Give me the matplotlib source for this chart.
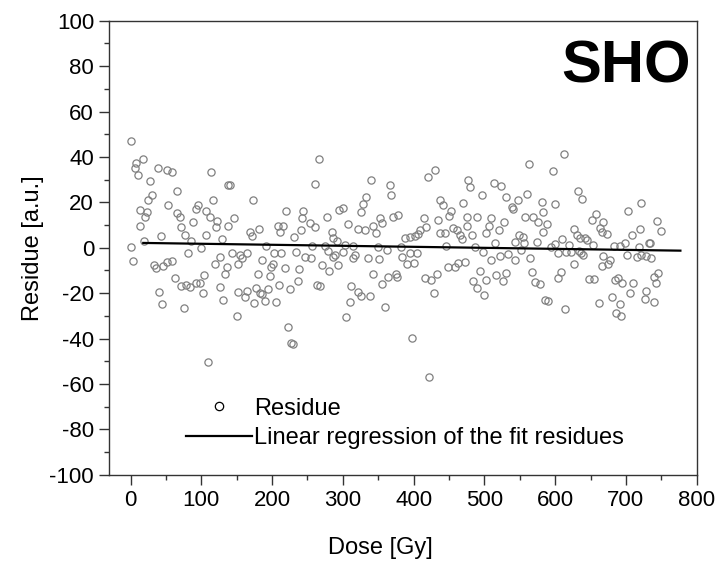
import numpy as np
import matplotlib
matplotlib.use("Agg")
import matplotlib.pyplot as plt
from matplotlib.ticker import MultipleLocator

plt.rcParams['font.family'] = ['Liberation Sans', 'DejaVu Sans']
plt.rcParams['axes.unicode_minus'] = False

# ---------- data ----------
dose = [
    1, 17, 8, 6, 11, 39, 51, 58, 114, 27, 138, 66, 30, 25, 117, 53, 96, 92, 14, 23,
    20, 65, 70, 107, 112, 122, 88, 13, 121, 138, 71, 43, 77, 106, 129, 19, 86, 0, 99, 81,
    4, 126, 119, 33, 36, 46, 51, 58, 136, 133, 104, 63, 72, 79, 84, 93, 98, 126, 102, 40,
    131, 45, 76, 110,
    266, 140, 261, 173, 220, 244, 242, 277, 146, 253, 260, 209, 216, 211, 241, 169, 182, 171, 231, 284,
    286, 192, 257, 275, 144, 164, 154, 158, 203, 213, 234, 246, 255, 279, 286, 152, 186, 202, 199, 218,
    238, 270, 280, 180, 197, 236, 210, 225, 264, 268, 152, 165, 177, 183, 186, 194, 162, 175, 190, 205,
    150, 223, 227, 230,
    430, 420, 340, 366, 368, 333, 329, 326, 295, 300, 308, 322, 331, 352, 356, 343, 347, 371, 378, 414,
    418, 409, 435, 437, 292, 388, 395, 402, 406, 303, 314, 350, 362, 382, 437, 289, 300, 317, 315, 293,
    336, 351, 384, 395, 405, 391, 400, 342, 364, 375, 377, 356, 416, 425, 433, 429, 311, 322, 325, 338,
    310, 359, 304, 398, 422,
    563, 477, 480, 513, 524, 496, 530, 560, 547, 539, 541, 442, 470, 581, 453, 450, 456, 461, 465, 468,
    444, 475, 476, 490, 483, 510, 506, 503, 520, 528, 558, 569, 576, 583, 583, 515, 543, 549, 555, 556,
    446, 487, 498, 522, 534, 552, 509, 543, 564, 574, 449, 459, 463, 472, 494, 484, 502, 489, 500, 517,
    526, 531, 567, 571, 579, 586,
    612, 597, 632, 638, 600, 589, 703, 722, 658, 652, 668, 663, 673, 666, 627, 631, 635, 642, 645, 653,
    610, 600, 594, 604, 620, 616, 623, 637, 640, 634, 720, 708, 699, 683, 692, 718, 732, 668, 677, 675,
    666, 702, 715, 729, 626, 608, 604, 648, 655, 685, 689, 695, 710, 706, 729, 727, 590, 614, 662, 680,
    691, 686, 693,
    744, 749, 734, 722, 736, 746, 739, 743, 740,
]
residue = [
    47, 39, 37.5, 35, 32, 35.3, 34.2, 33.2, 33.5, 29.5, 27.6, 25.1, 23.2, 21, 21, 18.8, 18.8, 16.9, 16.6, 15.9,
    13.4, 15.2, 13.4, 16.3, 13.4, 11.9, 11.5, 9.7, 9, 9.6, 9, 5.3, 5.6, 5.6, 3.9, 3.1, 3, 0.2, -0.3, -2.5,
    -5.8, -3.9, -7.3, -7.6, -8.8, -8, -6.1, -5.8, -8.3, -11.6, -12, -13.5, -16.8, -16.4, -17.1, -15.7, -15.7, -17.1, -20.1, -19.3,
    -23, -24.9, -26.7, -50.2,
    39.1, 27.6, 27.9, 21.0, 16.2, 16.2, 13.2, 13.7, 13.2, 10.8, 9.0, 9.6, 9.6, 7.1, 7.8, 6.7, 8.3, 5.2, 4.6, 7.1,
    4.2, 0.8, 0.8, 0.8, -2.2, -2.5, -3.2, -4.7, -2.5, -2.5, -1.7, -3.9, -4.7, -1.4, -3.9, -7.3, -5.4, -7.3, -8.6, -9.1,
    -9.4, -7.6, -10.1, -11.6, -12.4, -14.5, -16.4, -18.3, -16.4, -16.7, -19.3, -18.9, -17.9, -19.8, -20.4, -18.3, -21.8, -24.5, -23.5, -23.7,
    -30.1, -34.8, -41.8, -42.5,
    34.2, 31.3, 29.8, 27.6, 23.2, 22.5, 19.3, 15.9, 16.6, 17.4, 10.5, 8.1, 7.8, 13.2, 11.0, 9.6, 6.3, 13.7, 14.4, 13.2,
    9.3, 7.8, 12.2, 21.0, 3.1, 4.2, 4.9, 5.2, 5.9, 1.2, 0.8, 0.2, -1.0, 0.5, 6.3, -3.2, -1.7, -3.2, -4.7, -7.6,
    -4.7, -5.1, -3.9, -2.5, -2.2, -7.2, -6.9, -11.6, -13.0, -11.6, -12.7, -16.0, -13.5, -14.2, -11.6, -20.1, -16.8, -19.3, -21.2, -21.2,
    -23.7, -26.2, -30.6, -39.9, -56.8,
    36.7, 29.8, 26.9, 28.7, 27.3, 23.2, 22.5, 23.7, 21.0, 17.8, 16.9, 18.8, 19.6, 20.3, 16.3, 14.0, 8.6, 7.8, 5.6, 3.7,
    6.3, 13.7, 9.6, 13.4, 5.6, 12.9, 9.6, 6.3, 7.8, 11.5, 13.7, 13.7, 11.5, 15.9, 7.1, 2.2, 2.7, 5.6, 4.9, 1.9,
    0.8, 0.5, -1.7, -3.6, -2.7, -1.0, -5.4, -5.4, -4.4, 2.3, -8.3, -8.6, -6.9, -6.1, -10.1, -14.5, -14.2, -17.6, -20.8, -12.0,
    -14.5, -11.0, -10.5, -14.9, -16.0, -23.0,
    41.1, 33.9, 25.0, 21.3, 19.3, 10.5, 16.3, 19.9, 14.7, 12.2, 11.5, 8.8, 6.0, 7.1, 8.1, 5.6, 4.1, 4.1, 3.4, 1.2,
    3.7, 1.7, 0.2, -2.5, 1.2, -1.7, -1.7, -2.2, -3.2, -1.4, 8.1, 5.6, 1.9, 0.8, 0.8, 0.5, 2.2, -3.6, -5.4, -7.2,
    -8.0, -3.2, -3.9, -3.6, -7.3, -10.5, -13.5, -13.9, -13.9, -14.2, -13.5, -15.7, -15.4, -19.8, -18.9, -22.7, -23.5, -27.1, -24.5, -21.8,
    -24.8, -28.6, -30.3,
    11.8, 7.4, 1.9, -3.2, -4.7, -11.3, -12.7, -15.4, -23.7,
]

# end points of the linear regression line
reg_dose = [18, 777]
reg_res = [2.1, -1.3]

xticks = [0, 100, 200, 300, 400, 500, 600, 700, 800]
yticks = [-100, -80, -60, -40, -20, 0, 20, 40, 60, 80, 100]

# ---------- plot ----------
fig = plt.figure(figsize=(7.2, 5.72), dpi=100)
ax = fig.add_axes([0.1518, 0.1701, 0.8158, 0.7937])

ax.plot(dose, residue, linestyle='none', marker='o', ms=5.2, mfc='none',
        mec='#808080', mew=0.9, label='Residue')
ax.plot(reg_dose, reg_res, color='black', lw=1.6,
        label='Linear regression of the fit residues')

ax.set_xlim(-30, 800)
ax.set_ylim(-100, 100)
ax.set_xticks(xticks)
ax.set_yticks(yticks)
ax.xaxis.set_minor_locator(MultipleLocator(50))
ax.yaxis.set_minor_locator(MultipleLocator(10))
ax.tick_params(which='major', direction='out', length=7, width=1.0,
               labelsize=16, pad=4, color='#333333')
ax.tick_params(which='minor', direction='out', length=3.5, width=1.0,
               color='#333333')
for s in ax.spines.values():
    s.set_linewidth(1.0)
    s.set_color('#333333')

ax.set_xlabel('Dose [Gy]', fontsize=17)
ax.set_ylabel('Residue [a.u.]', fontsize=17)
ax.xaxis.set_label_coords(0.461, -0.137)
ax.yaxis.set_label_coords(-0.112, 0.5)

ax.text(0.99, 0.898, 'SHO', transform=ax.transAxes, ha='right', va='center',
        fontsize=43, fontweight='bold')

leg = ax.legend(loc='upper left', bbox_to_anchor=(0.13, 0.17), frameon=False,
                fontsize=17, handlelength=2.8, handletextpad=0.1,
                borderpad=0, borderaxespad=0, labelspacing=0.33)
leg.legend_handles[0].set_markeredgecolor('black')
leg.legend_handles[0].set_markersize(6)

fig.savefig('out.png', dpi=100)
